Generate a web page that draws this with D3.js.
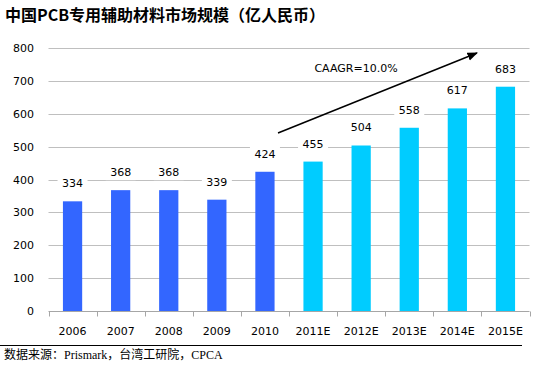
<!DOCTYPE html>
<html>
<head>
<meta charset="utf-8">
<script src="https://cdn.jsdelivr.net/npm/d3@7"></script>
<style>
  html, body { margin: 0; padding: 0; background: #fff; }
  svg { display: block; }
</style>
</head>
<body>
<div id="chart"></div>
<script>
// chart data
const years = ['2006', '2007', '2008', '2009', '2010', '2011E', '2012E', '2013E', '2014E', '2015E'];
const values = [334, 368, 368, 339, 424, 455, 504, 558, 617, 683];
const forecast = [false, false, false, false, false, true, true, true, true, true];
const yTicks = [0, 100, 200, 300, 400, 500, 600, 700, 800];

const W = 548, H = 367;
const M = { left: 48.5, right: 529.5, top: 48.3, bottom: 311 };
const numFont = '"DejaVu Sans", Verdana, sans-serif';
const cjkFont = '"Noto Sans CJK SC", sans-serif';
const serifCjk = '"Liberation Serif", "Noto Sans CJK SC", serif';
const fs = 11;

const svg = d3.select('#chart').append('svg')
  .attr('width', W).attr('height', H);

const x = d3.scaleBand().domain(years).range([M.left, M.right]).paddingInner(0.6).paddingOuter(0.3);
const y = d3.scaleLinear().domain([0, 800]).range([M.bottom, M.top]);

// title
svg.append('text')
  .attr('x', 5).attr('y', 21)
  .attr('font-family', cjkFont).attr('font-weight', 'bold').attr('font-size', 16)
  .attr('fill', '#000')
  .text('中国PCB专用辅助材料市场规模（亿人民币）');

// gridlines
svg.append('g').selectAll('line').data(yTicks.filter(d => d > 0)).join('line')
  .attr('x1', M.left).attr('x2', M.right)
  .attr('y1', d => Math.round(y(d)) + 0.5).attr('y2', d => Math.round(y(d)) + 0.5)
  .attr('stroke', '#bfbfbf').attr('stroke-width', 1);

// y labels
svg.append('g').selectAll('text').data(yTicks).join('text')
  .attr('x', 34).attr('y', d => y(d) + 4)
  .attr('text-anchor', 'end')
  .attr('font-family', numFont).attr('font-size', fs).attr('fill', '#000')
  .text(d => d);

// x axis line with ticks between categories
const step = x.step();
const axisY = Math.round(y(0)) + 0.5;
svg.append('line')
  .attr('x1', M.left).attr('x2', M.right)
  .attr('y1', axisY).attr('y2', axisY)
  .attr('stroke', '#a6a6a6');
svg.append('g').selectAll('line').data(d3.range(years.length + 1)).join('line')
  .attr('x1', i => Math.round(M.left + i * step) + 0.5)
  .attr('x2', i => Math.round(M.left + i * step) + 0.5)
  .attr('y1', axisY).attr('y2', axisY + 5)
  .attr('stroke', '#a6a6a6');

// bars
svg.append('g').selectAll('rect').data(values).join('rect')
  .attr('x', (d, i) => x(years[i]))
  .attr('width', x.bandwidth())
  .attr('y', d => y(d))
  .attr('height', d => y(0) - y(d))
  .attr('fill', (d, i) => forecast[i] ? '#00ccff' : '#3366ff');

// value labels with white boxes
const lab = svg.append('g').selectAll('g').data(values).join('g')
  .attr('transform', (d, i) => `translate(${x(years[i]) + x.bandwidth() / 2},${y(d) - 18})`);
lab.append('rect')
  .attr('x', -15).attr('y', -8).attr('width', 30).attr('height', 16)
  .attr('fill', '#fff');
lab.append('text')
  .attr('text-anchor', 'middle').attr('y', 4)
  .attr('font-family', numFont).attr('font-size', fs).attr('fill', '#000')
  .text(d => d);

// x labels
svg.append('g').selectAll('text').data(years).join('text')
  .attr('x', d => x(d) + x.bandwidth() / 2).attr('y', 334.5)
  .attr('text-anchor', 'middle')
  .attr('font-family', numFont).attr('font-size', fs).attr('fill', '#000')
  .text(d => d);

// CAGR arrow
svg.append('defs').append('marker')
  .attr('id', 'arr').attr('viewBox', '0 0 10 10')
  .attr('refX', 9).attr('refY', 5)
  .attr('markerWidth', 7).attr('markerHeight', 7)
  .attr('orient', 'auto')
  .append('path').attr('d', 'M0,1 L10,5 L0,9 Z').attr('fill', '#000');
svg.append('line')
  .attr('x1', 278).attr('y1', 133).attr('x2', 477).attr('y2', 53)
  .attr('stroke', '#000').attr('stroke-width', 1.5)
  .attr('marker-end', 'url(#arr)');
svg.append('text')
  .attr('x', 356).attr('y', 72).attr('text-anchor', 'middle')
  .attr('font-family', numFont).attr('font-size', fs).attr('fill', '#000')
  .text('CAAGR=10.0%');

// footer
svg.append('line')
  .attr('x1', 0).attr('x2', 522).attr('y1', 345.5).attr('y2', 345.5)
  .attr('stroke', '#000').attr('stroke-width', 1);
svg.append('text')
  .attr('x', 4).attr('y', 358.5)
  .attr('font-family', serifCjk).attr('font-size', 12).attr('fill', '#000')
  .text('数据来源：Prismark，台湾工研院，CPCA');
</script>
</body>
</html>
